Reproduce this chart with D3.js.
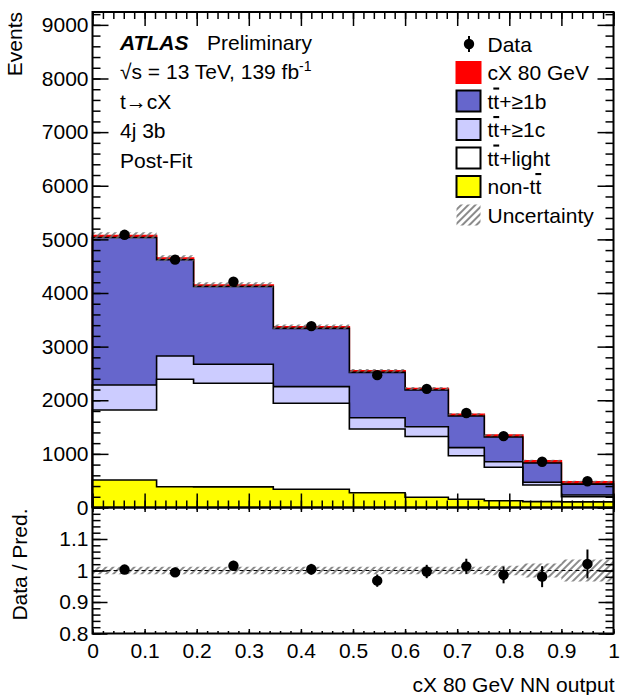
<!DOCTYPE html>
<html>
<head>
<meta charset="utf-8">
<script src="https://cdn.jsdelivr.net/npm/d3@7"></script>
<style>
  body { margin: 0; background: #fff; }
  text { font-family: "Liberation Sans", Arial, Helvetica, sans-serif; fill: #000; }
</style>
</head>
<body>
<svg id="chart" width="621" height="695"></svg>
<script>
// bin edges of the NN output
const binEdges = [0, 0.123, 0.194, 0.347, 0.493, 0.60, 0.683, 0.752, 0.826, 0.90, 1.0];

// post-fit yields per bin
const nonTT   = [513, 388, 385, 340, 276, 190, 153, 125, 110, 105];
const ttLight = [1306, 2004, 1932, 1604, 1189, 1133, 812, 625, 310, 95];
const tt1c    = [466, 434, 355, 310, 209, 184, 151, 104, 50, 33];
const tt1b    = [2750, 1794, 1448, 1086, 846, 683, 589, 461, 360, 202];
const signal  = [35, 30, 30, 30, 30, 30, 35, 35, 40, 45];

// data and its statistical error
const dataVals = [5085, 4622, 4212, 3383, 2468, 2213, 1763, 1331, 853, 490];
const dataErr  = [71, 68, 65, 58, 50, 47, 42, 36, 29, 22];

// relative uncertainty of the prediction
const relUnc = [0.012, 0.012, 0.012, 0.012, 0.012, 0.012, 0.012, 0.015, 0.022, 0.035];

// tick labels
const xTicks = [0, 0.1, 0.2, 0.3, 0.4, 0.5, 0.6, 0.7, 0.8, 0.9, 1];
const mainYTicks = [0, 1000, 2000, 3000, 4000, 5000, 6000, 7000, 8000, 9000];
const ratioYTicks = [0.8, 0.9, 1, 1.1];

const legendLabels = ["Data", "cX 80 GeV", "tt+≥1b", "tt+≥1c", "tt+light", "non-tt", "Uncertainty"];
const infoLines = ["√s = 13 TeV, 139 fb", "t→cX", "4j 3b", "Post-Fit"];

const svg = d3.select("#chart");

const left = 92.5, right = 613.5;
const mainTop = 12, mainBottom = 507.5, ratioBottom = 633.5;

const x = d3.scaleLinear().domain([0, 1]).range([left, right]);
const yMain = d3.scaleLinear().domain([0, 9240]).range([mainBottom, mainTop]);
const yRatio = d3.scaleLinear().domain([0.8, 1.2]).range([ratioBottom, mainBottom]);

// hatch for the uncertainty
const defs = svg.append("defs");
const pat = defs.append("pattern")
  .attr("id", "hatch")
  .attr("patternUnits", "userSpaceOnUse")
  .attr("width", 5)
  .attr("height", 5)
  .attr("patternTransform", "rotate(45)");
pat.append("line")
  .attr("x1", 1).attr("y1", 0).attr("x2", 1).attr("y2", 5)
  .attr("stroke", "#6e6e6e")
  .attr("stroke-width", 1.6);

const nBins = dataVals.length;

// cumulative stack from the bottom
const layers = [
  { name: "nonTT", vals: nonTT, fill: "#ffff00", stroke: "#000" },
  { name: "ttLight", vals: ttLight, fill: "#ffffff", stroke: "#000" },
  { name: "tt1c", vals: tt1c, fill: "#ccccff", stroke: "#000" },
  { name: "tt1b", vals: tt1b, fill: "#6666cc", stroke: "#000" },
  { name: "signal", vals: signal, fill: "#ff0000", stroke: "#ff0000" }
];
let running = new Array(nBins).fill(0);
layers.forEach(l => {
  running = running.map((r, i) => r + l.vals[i]);
  l.cum = running.slice();
});
const total = layers[layers.length - 1].cum;

function stepPoints(vals) {
  const pts = [];
  vals.forEach((v, i) => {
    pts.push([binEdges[i], v]);
    pts.push([binEdges[i + 1], v]);
  });
  return pts;
}

const stepArea = d3.area()
  .x(d => x(d[0]))
  .y0(yMain(0))
  .y1(d => yMain(d[1]));

const stepLine = d3.line()
  .x(d => x(d[0]))
  .y(d => yMain(d[1]));

const mainG = svg.append("g");

// draw the tallest first so the lower ones sit on top
layers.slice().reverse().forEach(l => {
  const pts = stepPoints(l.cum);
  mainG.append("path")
    .attr("d", stepArea(pts))
    .attr("fill", l.fill);
  mainG.append("path")
    .attr("d", stepLine([[binEdges[0], 0]].concat(pts, [[binEdges[nBins], 0]])))
    .attr("fill", "none")
    .attr("stroke", l.stroke)
    .attr("stroke-width", 1.6);
});

// uncertainty band on the total
const bandArea = d3.area()
  .x(d => x(d[0]))
  .y0(d => yMain(d[1] * (1 - d[2])))
  .y1(d => yMain(d[1] * (1 + d[2])));
const bandPts = [];
total.forEach((t, i) => {
  bandPts.push([binEdges[i], t, relUnc[i]]);
  bandPts.push([binEdges[i + 1], t, relUnc[i]]);
});
mainG.append("path")
  .attr("d", bandArea(bandPts))
  .attr("fill", "url(#hatch)");

// data points
const centers = d3.range(nBins).map(i => (binEdges[i] + binEdges[i + 1]) / 2);
centers.forEach((c, i) => {
  mainG.append("line")
    .attr("x1", x(c)).attr("x2", x(c))
    .attr("y1", yMain(dataVals[i] - dataErr[i]))
    .attr("y2", yMain(dataVals[i] + dataErr[i]))
    .attr("stroke", "#000").attr("stroke-width", 2);
  mainG.append("circle")
    .attr("cx", x(c)).attr("cy", yMain(dataVals[i]))
    .attr("r", 5.2).attr("fill", "#000");
});

// ratio panel
const ratioG = svg.append("g");
const ratioBand = d3.area()
  .x(d => x(d[0]))
  .y0(d => yRatio(1 - d[1]))
  .y1(d => yRatio(1 + d[1]));
const ratioBandPts = [];
relUnc.forEach((u, i) => {
  ratioBandPts.push([binEdges[i], u]);
  ratioBandPts.push([binEdges[i + 1], u]);
});
ratioG.append("path")
  .attr("d", ratioBand(ratioBandPts))
  .attr("fill", "url(#hatch)");

ratioG.append("line")
  .attr("x1", x(0)).attr("x2", x(1))
  .attr("y1", yRatio(1)).attr("y2", yRatio(1))
  .attr("stroke", "#000")
  .attr("stroke-width", 1.2)
  .attr("stroke-dasharray", "4,3");

centers.forEach((c, i) => {
  const r = dataVals[i] / total[i];
  const e = dataErr[i] / total[i];
  ratioG.append("line")
    .attr("x1", x(c)).attr("x2", x(c))
    .attr("y1", yRatio(r - e)).attr("y2", yRatio(r + e))
    .attr("stroke", "#000").attr("stroke-width", 2);
  ratioG.append("circle")
    .attr("cx", x(c)).attr("cy", yRatio(r))
    .attr("r", 5.2).attr("fill", "#000");
});

// axes: ROOT style ticks on every side, pointing inside
function ticksOnly(g, axis) {
  g.call(axis);
  g.select(".domain").remove();
  g.selectAll(".tick line").attr("stroke", "#000").attr("stroke-width", 1.5);
}

const fmt = d3.format("~g");
const fontSize = 21;

// main panel y axis (left + right)
const mainMinorY = d3.range(0, 9240, 200);
ticksOnly(svg.append("g").attr("transform", `translate(${left},0)`),
  d3.axisLeft(yMain).tickValues(mainMinorY).tickSize(-8).tickFormat(""));
const mainYAxis = svg.append("g").attr("transform", `translate(${left},0)`);
ticksOnly(mainYAxis, d3.axisLeft(yMain).tickValues(mainYTicks).tickSize(-16).tickPadding(4).tickFormat(fmt));
ticksOnly(svg.append("g").attr("transform", `translate(${right},0)`),
  d3.axisRight(yMain).tickValues(mainMinorY).tickSize(-8).tickFormat(""));
ticksOnly(svg.append("g").attr("transform", `translate(${right},0)`),
  d3.axisRight(yMain).tickValues(mainYTicks).tickSize(-16).tickFormat(""));

// main panel x ticks (top + bottom, no labels)
const minorX = d3.range(0, 1.001, 0.02);
ticksOnly(svg.append("g").attr("transform", `translate(0,${mainTop})`),
  d3.axisTop(x).tickValues(minorX).tickSize(-7).tickFormat(""));
ticksOnly(svg.append("g").attr("transform", `translate(0,${mainTop})`),
  d3.axisTop(x).tickValues(xTicks).tickSize(-14).tickFormat(""));
ticksOnly(svg.append("g").attr("transform", `translate(0,${mainBottom})`),
  d3.axisBottom(x).tickValues(minorX).tickSize(-7).tickFormat(""));
ticksOnly(svg.append("g").attr("transform", `translate(0,${mainBottom})`),
  d3.axisBottom(x).tickValues(xTicks).tickSize(-14).tickFormat(""));

// ratio panel y axis
const ratioMinorY = d3.range(0.8, 1.2001, 0.02);
const ratioMajorY = ratioYTicks.concat([1.2]);
ticksOnly(svg.append("g").attr("transform", `translate(${left},0)`),
  d3.axisLeft(yRatio).tickValues(ratioMinorY).tickSize(-8).tickFormat(""));
const ratioYAxis = svg.append("g").attr("transform", `translate(${left},0)`);
ticksOnly(ratioYAxis, d3.axisLeft(yRatio).tickValues(ratioYTicks).tickSize(-15).tickPadding(4).tickFormat(fmt));
ticksOnly(svg.append("g").attr("transform", `translate(${right},0)`),
  d3.axisRight(yRatio).tickValues(ratioMinorY).tickSize(-8).tickFormat(""));
ticksOnly(svg.append("g").attr("transform", `translate(${right},0)`),
  d3.axisRight(yRatio).tickValues(ratioMajorY).tickSize(-15).tickFormat(""));

// ratio panel x axis
ticksOnly(svg.append("g").attr("transform", `translate(0,${mainBottom})`),
  d3.axisTop(x).tickValues(minorX).tickSize(-2.5).tickFormat(""));
ticksOnly(svg.append("g").attr("transform", `translate(0,${mainBottom})`),
  d3.axisTop(x).tickValues(xTicks).tickSize(-4.5).tickFormat(""));
ticksOnly(svg.append("g").attr("transform", `translate(0,${ratioBottom})`),
  d3.axisBottom(x).tickValues(minorX).tickSize(-2.5).tickFormat(""));
const xAxis = svg.append("g").attr("transform", `translate(0,${ratioBottom})`);
ticksOnly(xAxis, d3.axisBottom(x).tickValues(xTicks).tickSize(-4.5).tickPadding(10).tickFormat(fmt));

svg.selectAll(".tick text")
  .style("font-size", fontSize + "px")
  .style("font-family", '"Liberation Sans", Arial, sans-serif')
  .attr("fill", "#000");

// frames
svg.append("rect")
  .attr("x", left).attr("y", mainTop)
  .attr("width", right - left).attr("height", mainBottom - mainTop)
  .attr("fill", "none").attr("stroke", "#000").attr("stroke-width", 2);
svg.append("rect")
  .attr("x", left).attr("y", mainBottom)
  .attr("width", right - left).attr("height", ratioBottom - mainBottom)
  .attr("fill", "none").attr("stroke", "#000").attr("stroke-width", 2);

// axis titles
svg.append("text")
  .attr("transform", `translate(22,${mainTop}) rotate(-90)`)
  .attr("text-anchor", "end")
  .style("font-size", fontSize + "px")
  .text("Events");
svg.append("text")
  .attr("transform", `translate(27,${mainBottom + 1}) rotate(-90)`)
  .attr("text-anchor", "end")
  .style("font-size", fontSize + "px")
  .text("Data / Pred.");
svg.append("text")
  .attr("x", right + 1).attr("y", 692)
  .attr("text-anchor", "end")
  .style("font-size", fontSize + "px")
  .text("cX 80 GeV NN output");

// ATLAS label block
svg.append("text")
  .attr("x", 120).attr("y", 49.5)
  .style("font-size", fontSize + "px")
  .style("font-weight", "bold")
  .style("font-style", "italic")
  .text("ATLAS");
svg.append("text")
  .attr("x", 207).attr("y", 49.5)
  .style("font-size", fontSize + "px")
  .text("Preliminary");

infoLines.forEach((t, i) => {
  const txt = svg.append("text")
    .attr("x", 120).attr("y", 79 + i * 29.5)
    .style("font-size", fontSize + "px")
    .text(t);
  if (i === 0) {
    txt.append("tspan")
      .attr("dy", -8)
      .style("font-size", "14px")
      .text("-1");
  }
});

// legend
const legX = 456.5, legTextX = 487.5, legY0 = 44, legStep = 28.5;
const legendStyles = [
  { type: "data" },
  { type: "box", fill: "#ff0000", stroke: "#ff0000" },
  { type: "box", fill: "#6666cc", stroke: "#000" },
  { type: "box", fill: "#ccccff", stroke: "#000" },
  { type: "box", fill: "#ffffff", stroke: "#000" },
  { type: "box", fill: "#ffff00", stroke: "#000" },
  { type: "hatch" }
];
legendLabels.forEach((lab, i) => {
  const cy = legY0 + i * legStep;
  const st = legendStyles[i];
  if (st.type === "data") {
    svg.append("line")
      .attr("x1", legX + 12.5).attr("x2", legX + 12.5)
      .attr("y1", cy - 8).attr("y2", cy + 8)
      .attr("stroke", "#000").attr("stroke-width", 2);
    svg.append("circle")
      .attr("cx", legX + 12.5).attr("cy", cy).attr("r", 5.2).attr("fill", "#000");
  } else if (st.type === "box") {
    svg.append("rect")
      .attr("x", legX).attr("y", cy - 10.5)
      .attr("width", 24).attr("height", 21)
      .attr("fill", st.fill).attr("stroke", st.stroke).attr("stroke-width", 2);
  } else {
    svg.append("rect")
      .attr("x", legX).attr("y", cy - 10.5)
      .attr("width", 24).attr("height", 21)
      .attr("fill", "url(#hatch)");
  }
  const txt = svg.append("text")
    .attr("x", legTextX).attr("y", cy + 7.5)
    .style("font-size", fontSize + "px");
  // overline the anti-top in "tt"
  const m = lab.match(/^(.*?)tt(.*)$/);
  if (m && i > 1) {
    txt.append("tspan").text(m[1] + "t");
    txt.append("tspan").style("text-decoration", "overline").text("t");
    txt.append("tspan").text(m[2]);
  } else {
    txt.text(lab);
  }
});
</script>
</body>
</html>
